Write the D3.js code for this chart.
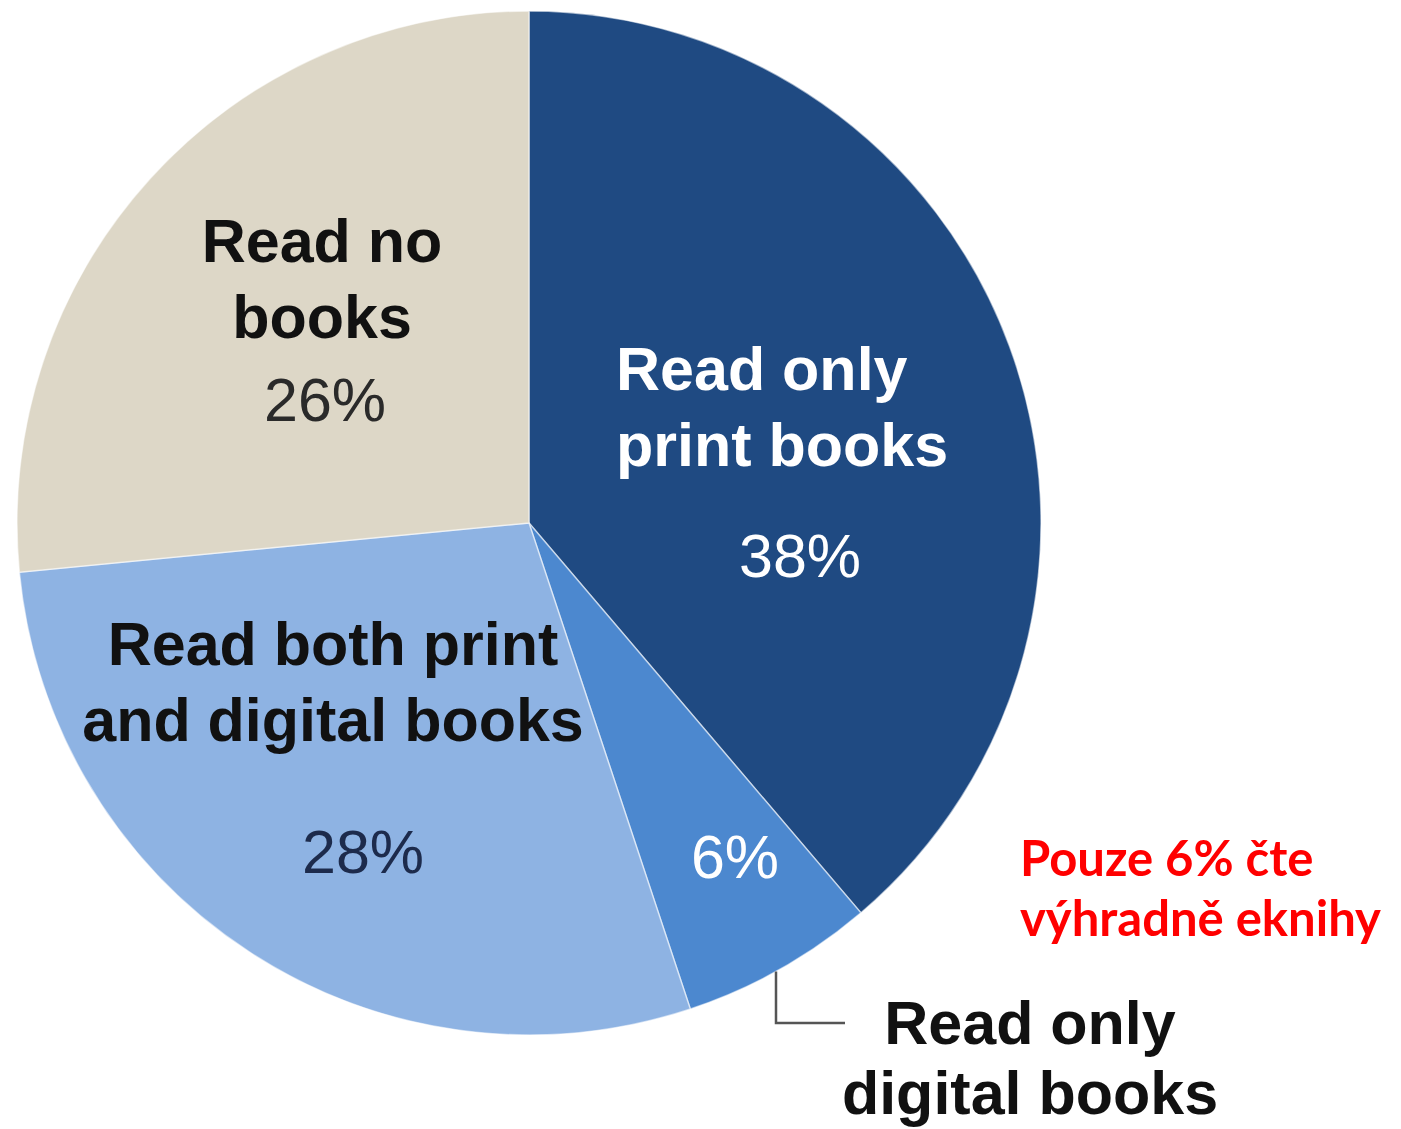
<!DOCTYPE html>
<html>
<head>
<meta charset="utf-8">
<script src="https://cdn.jsdelivr.net/npm/d3@7"></script>
<style>
  body { margin: 0; background: #fff; }
  svg { display: block; }
</style>
</head>
<body>
<div id="chart"></div>
<script>
// data (the four shares add up to 98)
const categories = ["Read only print books", "Read only digital books", "Read both print and digital books", "Read no books"];
const values = [38, 6, 28, 26];
const nameLines = [["Read only", "print books"], [], ["Read both print", "and digital books"], ["Read no", "books"]];
const pctLabels = ["38%", "6%", "28%", "26%"];
const calloutLines = ["Read only", "digital books"];
const noteLines = ["Pouze 6% čte", "výhradně eknihy"];

const width = 1401;
const height = 1129;
const cx = 529, cy = 523, radius = 512;

const colors = d3.scaleOrdinal()
    .domain(categories)
    .range(["#1f4a82", "#4c88cf", "#8eb3e3", "#ddd7c7"]);

const svg = d3.select("#chart")
    .append("svg")
    .attr("width", width)
    .attr("height", height);

const g = svg.append("g")
    .attr("transform", `translate(${cx},${cy})`);

const pie = d3.pie().sort(null).value(d => d.value);
const arc = d3.arc().innerRadius(0).outerRadius(radius);

const data = categories.map((c, i) => ({ name: c, value: values[i], i: i }));
const arcs = pie(data);

g.selectAll("path")
    .data(arcs)
    .enter().append("path")
    .attr("d", arc)
    .attr("fill", d => colors(d.data.name))
    .attr("stroke", "#ffffff")
    .attr("stroke-opacity", 0.55)
    .attr("stroke-width", 1.5);

// label layout, offsets from pie centre
const labelSpots = [
    { x: 87, y: -133, anchor: "start", fill: "#ffffff", px: 271, py: 54, pctFill: "#ffffff" },
    { x: 0, y: 0, anchor: "middle", fill: "#111", px: 206, py: 355, pctFill: "#ffffff" },
    { x: -196, y: 142, anchor: "middle", fill: "#111", px: -166, py: 350, pctFill: "#1d2b4c" },
    { x: -207, y: -261, anchor: "middle", fill: "#111", px: -204, py: -102, pctFill: "#2a2a2a" }
];
const lineGap = 76;

arcs.forEach((a, i) => {
    const s = labelSpots[i];
    nameLines[i].forEach((t, k) => {
        g.append("text")
            .attr("x", s.x)
            .attr("y", s.y + k * lineGap)
            .attr("text-anchor", s.anchor)
            .attr("font-family", "'Liberation Sans', Arial, sans-serif")
            .attr("font-weight", "bold")
            .attr("font-size", 61)
            .attr("fill", s.fill)
            .text(t);
    });
    g.append("text")
        .attr("x", s.px)
        .attr("y", s.py)
        .attr("text-anchor", "middle")
        .attr("font-family", "'Liberation Sans', Arial, sans-serif")
        .attr("font-size", 61)
        .attr("fill", s.pctFill)
        .text(pctLabels[i]);
});

// leader line from the small slice to its outside label
const leadX = 247;
const leadY0 = Math.sqrt(radius * radius - leadX * leadX);
const leadY1 = 500;
g.append("path")
    .attr("d", d3.line()([[leadX, leadY0], [leadX, leadY1], [316, leadY1]]))
    .attr("fill", "none")
    .attr("stroke", "#555")
    .attr("stroke-width", 2.5);

calloutLines.forEach((t, k) => {
    g.append("text")
        .attr("x", 501)
        .attr("y", 521 + k * 70)
        .attr("text-anchor", "middle")
        .attr("font-family", "'Liberation Sans', Arial, sans-serif")
        .attr("font-weight", "bold")
        .attr("font-size", 61)
        .attr("fill", "#111")
        .text(t);
});

// red note on the right
noteLines.forEach((t, k) => {
    svg.append("text")
        .attr("x", 1020)
        .attr("y", 876 + k * 60)
        .attr("font-family", "Lato, 'Open Sans', sans-serif")
        .attr("font-weight", "bold")
        .attr("font-size", 49)
        .attr("fill", "#ff0000")
        .text(t);
});
</script>
</body>
</html>
